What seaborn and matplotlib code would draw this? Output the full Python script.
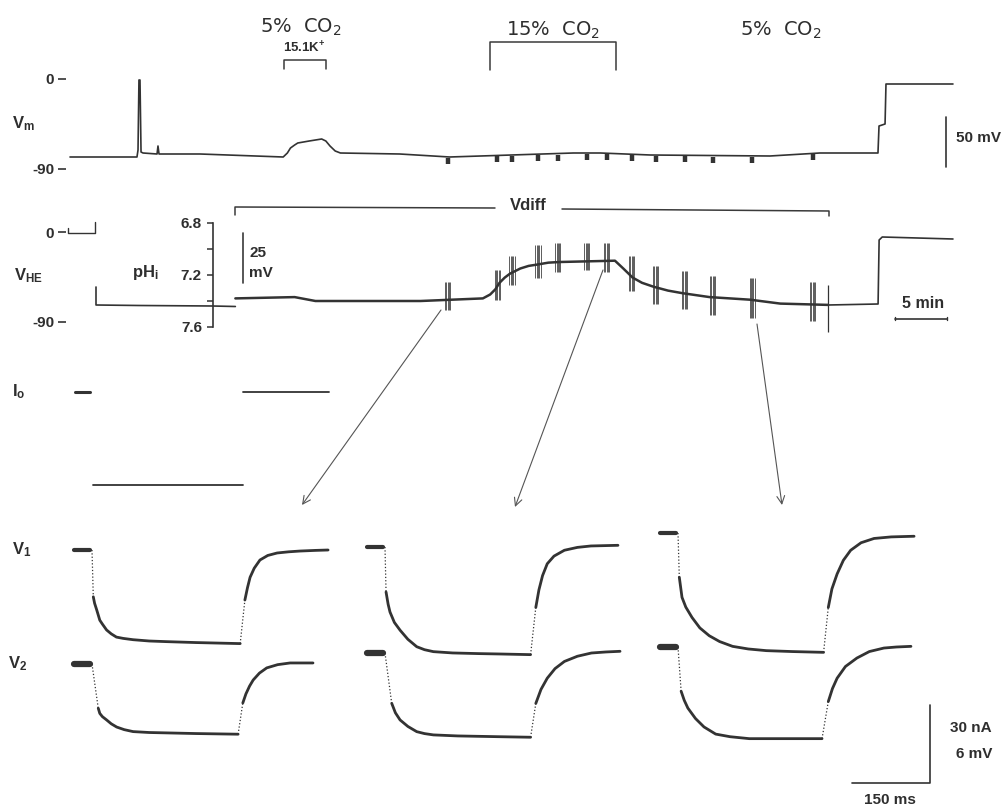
import numpy as np
import matplotlib
matplotlib.use("Agg")
import matplotlib.pyplot as plt
import seaborn as sns

# ---------------- data ----------------
# Membrane potential Vm (time in min, mV)
vm_t = [0, 6.44, 6.54, 6.63, 6.73, 6.83, 7.02, 8.37, 8.46, 8.56, 12.5, 20.5, 20.9, 21.2,
        21.6, 21.9, 23.0, 24.2, 24.6, 25.0, 25.5, 26.0, 31.7, 36.5, 48.4, 51.0, 55.8,
        67.3, 72.1, 77.5, 77.69, 77.79, 78.37, 78.46, 84.9]
vm_v = [-78, -78, -71, -1, -1, -73, -74, -75, -67, -75, -75, -78, -74, -69,
        -66, -64, -62, -60, -62, -67, -72, -74, -75, -78, -74, -74, -76,
        -77, -74, -74, -74, -47, -45, -5, -5]

# times of the voltage-clamp pulse trains (min)
pulse_t = [36.3, 41.1, 42.5, 45.0, 46.9, 49.7, 51.6, 54.0, 56.3, 59.1, 61.8, 65.6, 71.4]
burst_lo = [7.25, 7.16, 7.05, 6.97, 6.95, 6.95, 6.95, 7.05, 7.13, 7.17, 7.21, 7.22, 7.25]
burst_hi = [7.47, 7.39, 7.28, 7.22, 7.18, 7.16, 7.18, 7.32, 7.42, 7.46, 7.51, 7.53, 7.55]

# H+-sensitive electrode (time in min, mV)
vhe_hook_t = [-0.19, -0.19, 2.4, 2.4]
vhe_hook_v = [4, -1, -1, 10]
vhe_low_t = [2.5, 2.5, 6.7, 13.7, 15.9]
vhe_low_v = [-55, -73, -73.5, -74, -74.5]
vhe_end_t = [72.9, 77.7, 77.8, 78.1, 84.9]
vhe_end_v = [-73, -72, -8, -5, -7]

# Vdiff trace expressed as pHi
vd_t = [15.9, 21.6, 23.6, 33.7, 39.7, 40.4, 40.9, 41.3, 41.8, 42.3, 43.3, 44.1, 44.9,
        46.0, 47.1, 52.4, 53.2, 54.1, 55.0, 56.1, 57.5, 58.9, 61.5, 65.4, 68.3, 72.9]
vd_ph = [7.38, 7.37, 7.40, 7.40, 7.38, 7.35, 7.31, 7.26, 7.22, 7.19, 7.15, 7.13, 7.12,
         7.105, 7.10, 7.09, 7.15, 7.22, 7.26, 7.29, 7.32, 7.34, 7.37, 7.39, 7.42, 7.43]

# Io (time in min, nA)
io_a_t, io_a_v = [0.48, 1.92], [0, 0]
io_b_t, io_b_v = [2.21, 16.6], [-35.8, -35.8]
io_c_t, io_c_v = [16.6, 24.9], [0, 0]

# V1 / V2 responses to current steps (ms after step onset, mV), three epochs
pre_t = [-34, -4]
V1_DECAY_T = [[2.5, 5, 9, 15, 20, 28, 37, 47, 60, 79, 110, 144, 200, 285],
              [2, 6, 9.6, 18, 29, 44, 61, 76, 93, 130, 180, 221, 280],
              [2.5, 7.7, 15, 27, 42, 60, 80, 105, 135, 170, 220, 280]]
V1_DECAY_V = [[-3.6, -4.1, -4.6, -5.4, -5.7, -6.15, -6.45, -6.7, -6.8, -6.9, -7.0, -7.05, -7.12, -7.2],
              [-3.46, -4.4, -5.0, -5.8, -6.4, -7.1, -7.67, -7.9, -8.05, -8.15, -8.2, -8.23, -8.28],
              [-3.4, -4.95, -5.7, -6.5, -7.3, -7.9, -8.35, -8.72, -8.92, -9.05, -9.12, -9.18]]
V1_REC_T = [[294, 299, 304, 312, 323, 338, 356, 378, 400, 430, 454],
            [290, 296, 303, 312, 325, 345, 370, 396, 448],
            [289, 296, 306, 318, 332, 352, 377, 410, 454]]
V1_REC_V = [[-3.85, -2.9, -2.1, -1.4, -0.77, -0.42, -0.23, -0.14, -0.08, -0.03, 0.0],
            [-4.65, -3.3, -2.2, -1.29, -0.7, -0.25, -0.03, 0.08, 0.13],
            [-5.73, -4.3, -3.15, -2.1, -1.33, -0.75, -0.42, -0.3, -0.25]]
V2_DECAY_T = [[12, 15, 20, 28, 37, 47.5, 62, 79, 110, 144, 200, 281],
              [12.9, 20, 29, 44, 61, 76, 93, 140, 221, 280],
              [6, 12, 19, 33.6, 50, 72.5, 100, 137, 200, 277]]
V2_DECAY_V = [[-3.4, -3.8, -4.05, -4.3, -4.6, -4.85, -5.05, -5.2, -5.27, -5.3, -5.35, -5.4],
              [-3.87, -4.6, -5.15, -5.65, -6.05, -6.2, -6.3, -6.38, -6.44, -6.48],
              [-3.4, -4.1, -4.7, -5.5, -6.15, -6.7, -6.9, -7.05, -7.05, -7.05]]
V2_REC_T = [[290, 296, 303, 310, 322, 336, 357, 381, 425],
            [290, 300, 312, 327, 345, 370, 397, 425, 452],
            [289, 297, 306, 322, 344, 368, 396, 420, 448]]
V2_REC_V = [[-3.0, -2.3, -1.7, -1.23, -0.7, -0.3, -0.05, 0.08, 0.08],
            [-3.88, -2.8, -1.94, -1.2, -0.65, -0.25, 0.0, 0.08, 0.13],
            [-4.2, -3.2, -2.4, -1.5, -0.85, -0.35, -0.08, 0.0, 0.05]]

# ---------------- style ----------------
sns.set_theme(style="white")
plt.rcParams["font.family"] = ["Liberation Sans", "DejaVu Sans"]
plt.rcParams["mathtext.fontset"] = "custom"
plt.rcParams["mathtext.rm"] = "DejaVu Sans"
plt.rcParams["mathtext.bf"] = "Liberation Sans:bold"
plt.rcParams["axes.unicode_minus"] = False

TRACE = "#333333"
TXT = "#2e2e2e"
W, H = 1007, 808
fig = plt.figure(figsize=(W / 100, H / 100), dpi=100)
fig.patch.set_facecolor("white")

LIMS = []


def make_axes(px0, px1, py0, py1, xa, xs, ya, ys):
    ax = fig.add_axes([px0 / W, 1 - py1 / H, (px1 - px0) / W, (py1 - py0) / H])
    xl = (xa[1] + (px0 - xa[0]) / xs, xa[1] + (px1 - xa[0]) / xs)
    yl = (ya[1] - (py1 - ya[0]) / ys, ya[1] - (py0 - ya[0]) / ys)
    ax.patch.set_visible(False)
    for s in ax.spines.values():
        s.set_visible(False)
    ax.set_xticks([])
    ax.set_yticks([])
    LIMS.append((ax, xl, yl))
    ax.set_xlim(*xl)
    ax.set_ylim(*yl)
    return ax


def trace(ax, x, y, lw=1.2, ls="-", color=TRACE):
    sns.lineplot(x=list(x), y=list(y), ax=ax, sort=False, estimator=None, color=color,
                 linewidth=lw, linestyle=ls, clip_on=False)


MIN_PX = 10.4     # px per minute
MS_PX = 0.52      # px per ms
MVP_PX = 13.0     # px per mV (V1/V2)

# layout (pixel) axes for annotations
lay = make_axes(0, W, 0, H, (0, 0), 1, (0, 0), -1)

# ---- Vm row ----
ax_vm = make_axes(66, W, 30, 200, (70, 0), MIN_PX, (79, 0), 1.0)
trace(ax_vm, vm_t, vm_v, lw=1.2)
vm_at_pulse = np.interp(pulse_t, vm_t, vm_v)
ax_vm.vlines(pulse_t, vm_at_pulse - 1, vm_at_pulse - 7, color=TRACE, linewidth=3.2)
ax_vm.set_yticks([0, -90])
ax_vm.set_yticklabels(["0", "-90"])
ax_vm.tick_params(axis="y", left=True, direction="out", length=5.5, width=1.2,
                  color=TRACE, pad=3, labelsize=11, labelcolor=TXT)
for lab in ax_vm.get_yticklabels():
    lab.set_fontweight("bold")
# 50 mV scale bar
ax_vm.plot([84.2, 84.2], [-88, -38], color=TRACE, lw=1.2)

# ---- VHE row ----
ax_he = make_axes(66, W, 200, 340, (70, 0), MIN_PX, (232, 0), 1.0)
trace(ax_he, vhe_hook_t, vhe_hook_v, lw=1.0)
trace(ax_he, vhe_low_t, vhe_low_v, lw=1.2)
trace(ax_he, vhe_end_t, vhe_end_v, lw=1.2)
ax_he.set_yticks([0, -90])
ax_he.set_yticklabels(["0", "-90"])
ax_he.tick_params(axis="y", left=True, direction="out", length=5.5, width=1.2,
                  color=TRACE, pad=3, labelsize=11, labelcolor=TXT)
for lab in ax_he.get_yticklabels():
    lab.set_fontweight("bold")
# 5 min scale bar
ax_he.plot([79.3, 84.3], [-87, -87], color=TRACE, lw=1.2)
ax_he.plot([79.3, 79.3], [-85.5, -88.5], color=TRACE, lw=1.0)
ax_he.plot([84.3, 84.3], [-85.5, -88.5], color=TRACE, lw=1.0)

# ---- pHi axis + Vdiff trace ----
ax_ph = make_axes(213, W, 223, 327, (70, 0), MIN_PX, (223, 6.8), -130.0)
ax_ph.spines["left"].set_visible(True)
ax_ph.spines["left"].set_color(TRACE)
ax_ph.spines["left"].set_linewidth(1.2)
ax_ph.set_yticks([6.8, 7.0, 7.2, 7.4, 7.6])
ax_ph.set_yticklabels(["6.8", "", "7.2", "", "7.6"])
ax_ph.tick_params(axis="y", left=True, direction="out", length=4, width=1.1,
                  color=TRACE, pad=4, labelsize=11, labelcolor=TXT)
for lab in ax_ph.get_yticklabels():
    lab.set_fontweight("bold")
trace(ax_ph, vd_t, vd_ph, lw=1.8)
for t, lo, hi in zip(pulse_t, burst_lo, burst_hi):
    ax_ph.vlines([t - 0.25, t - 0.12, t, t + 0.12, t + 0.25], lo, hi, color=TRACE,
                 linewidth=0.7, alpha=0.8, clip_on=False)
ax_ph.vlines([72.9], 7.28, 7.64, color=TRACE, linewidth=0.9, clip_on=False)

# ---- Io row ----
ax_io = make_axes(0, W, 340, 520, (70, 0), MIN_PX, (392, 0), 2.6)
trace(ax_io, io_a_t, io_a_v, lw=2.2)
trace(ax_io, io_b_t, io_b_v, lw=1.3)
trace(ax_io, io_c_t, io_c_v, lw=1.3)

# ---- V1 / V2 panels ----
drop_px = [92, 385, 678]
v1_base = [550, 547, 533]
v2_base = [664, 653, 647]
for i in range(3):
    for base, dt, dv, rt, rv, pre_lw in [
            (v1_base[i], V1_DECAY_T[i], V1_DECAY_V[i], V1_REC_T[i], V1_REC_V[i], 3.0),
            (v2_base[i], V2_DECAY_T[i], V2_DECAY_V[i], V2_REC_T[i], V2_REC_V[i], 4.5)]:
        ax = make_axes(0, W, 0, H, (drop_px[i], 0), MS_PX, (base, 0), MVP_PX)
        trace(ax, pre_t, [0, 0], lw=pre_lw)
        trace(ax, [0, dt[0]], [0, dv[0]], lw=0.9, ls=":")
        trace(ax, dt, dv, lw=2.0)
        trace(ax, [dt[-1], rt[0]], [dv[-1], rv[0]], lw=0.9, ls=":")
        trace(ax, rt, rv, lw=2.0)
        if i == 2 and base == v2_base[2]:
            ax.plot([334, 484, 484], [-10.46, -10.46, -4.46], color=TRACE, lw=1.2)

for ax, xl, yl in LIMS:
    ax.set_xlim(*xl)
    ax.set_ylim(*yl)
    ax.set_xlabel("")
    ax.set_ylabel("")

# ---------------- annotations (pixel layout) ----------------
LC = "#3a3a3a"
lay.text(301, 27, "5%  CO$_{\\mathrm{2}}$", ha="center", va="center", fontsize=14,
         family="DejaVu Sans", color=TXT)
lay.text(553, 30, "15%  CO$_{\\mathrm{2}}$", ha="center", va="center", fontsize=14,
         family="DejaVu Sans", color=TXT)
lay.text(781, 30, "5%  CO$_{\\mathrm{2}}$", ha="center", va="center", fontsize=14,
         family="DejaVu Sans", color=TXT)
lay.text(304, 48, "15.1K$^{\\mathbf{+}}$", ha="center", va="center", fontsize=9.5,
         fontweight="bold", color=TXT)
lay.plot([284, 284, 326, 326], [69, 60, 60, 69], color=LC, lw=1.1)
lay.plot([490, 490, 616, 616], [70, 42, 42, 70], color=LC, lw=1.1)

lay.text(12, 124, "$\\mathbf{V_{m}}$", ha="left", va="center", fontsize=12, color=TXT)
lay.text(14, 276, "$\\mathbf{V_{HE}}$", ha="left", va="center", fontsize=12, color=TXT)
lay.text(132, 272, "$\\mathbf{pH_{i}}$", ha="left", va="center", fontsize=12, color=TXT)
lay.text(12, 392, "$\\mathbf{I_{o}}$", ha="left", va="center", fontsize=12, color=TXT)
lay.text(12, 550, "$\\mathbf{V_{1}}$", ha="left", va="center", fontsize=12, color=TXT)
lay.text(8, 664, "$\\mathbf{V_{2}}$", ha="left", va="center", fontsize=12, color=TXT)

lay.text(956, 138, "50 mV", ha="left", va="center", fontsize=11, fontweight="bold", color=TXT)
lay.plot([243, 243], [233, 283], color=LC, lw=1.2)
lay.text(249, 253, "25", ha="left", va="center", fontsize=11, fontweight="bold", color=TXT)
lay.text(249, 273, "mV", ha="left", va="center", fontsize=11, fontweight="bold", color=TXT)

lay.plot([235, 235, 495], [215, 207, 208], color=LC, lw=1.1)
lay.plot([562, 829, 829], [209, 211, 216], color=LC, lw=1.1)
lay.text(528, 205, "Vdiff", ha="center", va="center", fontsize=12, fontweight="bold", color=TXT)
lay.text(923, 304, "5 min", ha="center", va="center", fontsize=11.5, fontweight="bold", color=TXT)

lay.text(992, 728, "30 nA", ha="right", va="center", fontsize=11, fontweight="bold", color=TXT)
lay.text(992, 754, "6 mV", ha="right", va="center", fontsize=11, fontweight="bold", color=TXT)
lay.text(890, 800, "150 ms", ha="center", va="center", fontsize=11, fontweight="bold", color=TXT)

arrow_kw = dict(arrowstyle="->", lw=0.8, color="#555555", mutation_scale=14, shrinkA=0, shrinkB=0)
lay.annotate("", xy=(302, 505), xytext=(441, 310), arrowprops=arrow_kw)
lay.annotate("", xy=(515, 507), xytext=(603, 270), arrowprops=arrow_kw)
lay.annotate("", xy=(782, 505), xytext=(757, 324), arrowprops=arrow_kw)

fig.savefig("out.png", dpi=100, facecolor="white")
